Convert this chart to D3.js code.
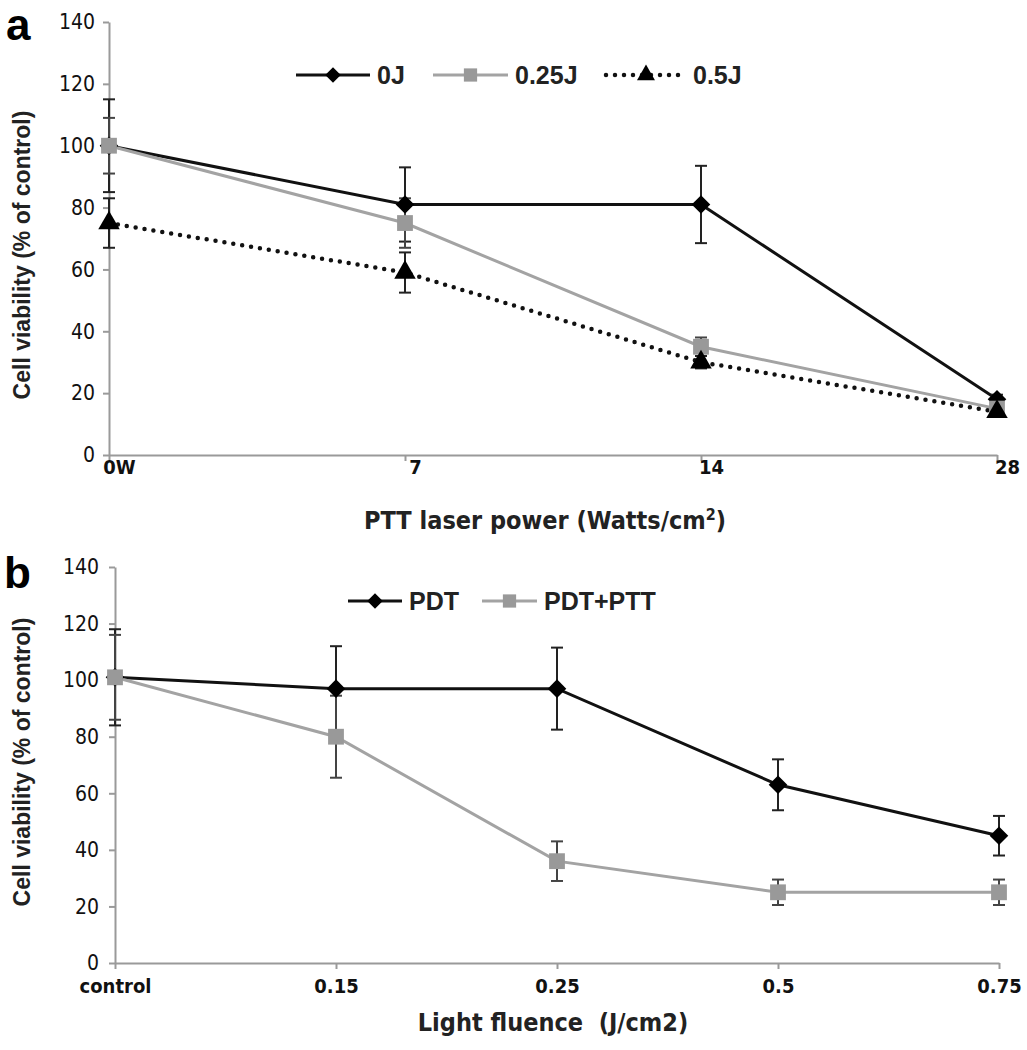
<!DOCTYPE html>
<html>
<head>
<meta charset="utf-8">
<script src="https://cdn.jsdelivr.net/npm/d3@7"></script>
<style>
  body { margin: 0; background: #fff; }
  svg { display: block; }
  .tick text { fill: #111; }
</style>
</head>
<body>
<div id="chart_container"></div>
<script>
// panel a : cell viability vs PTT laser power
const aCategories = ["0W", "7", "14", "28"];
const a0J = [100, 81, 81, 18];
const a0JErr = [15, 12, 12.5, 1.5];
const a025J = [100, 75, 35, 15];
const a025JErr = [9, 8, 3, 1.5];
const a05J = [75, 59, 30, 14];
const a05JErr = [8, 6.5, 2, 1.5];

// panel b : cell viability vs light fluence
const bCategories = ["control", "0.15", "0.25", "0.5", "0.75"];
const bPDT = [101, 97, 97, 63, 45];
const bPDTErr = [17, 15, 14.5, 9, 7];
const bPDTPTT = [101, 80, 36, 25, 25];
const bPDTPTTErr = [15, 14.5, 7, 4.5, 4.5];

const yTicks = [0, 20, 40, 60, 80, 100, 120, 140];

const narrowFont = "'DejaVu Sans Condensed', 'Liberation Sans Narrow', sans-serif";
const boldFont = "'Liberation Sans', Arial, sans-serif";

let svg = d3.select("#chart_container").append("svg")
    .attr("width", 1027)
    .attr("height", 1050);

function drawMarker(g, shape, x, y, color, size){
    let type = d3.symbolTriangle;
    if(shape == "diamond") type = d3.symbolDiamond2;
    if(shape == "square") type = d3.symbolSquare;
    g.append("path")
        .attr("d", d3.symbol().type(type).size(size)())
        .attr("transform", "translate(" + x + "," + y + ")")
        .attr("fill", color);
}

function drawPanel(p){
    let g = svg.append("g");

    let x = d3.scalePoint().domain(p.categories).range([p.left, p.right]);
    let y = d3.scaleLinear().domain([0, 140]).range([p.bottom, p.top]);

    // axes
    let xAxis = g.append("g")
        .attr("transform", "translate(0," + p.bottom + ")")
        .call(d3.axisBottom(x).tickSize(6).tickSizeOuter(0));
    xAxis.selectAll("text")
        .attr("y", p.xLabelY)
        .attr("dy", "0.71em")
        .attr("dx", p.xLabelShift)
        .style("font-family", narrowFont)
        .style("font-weight", "bold")
        .style("font-size", "20px");

    let yAxis = g.append("g")
        .attr("transform", "translate(" + p.left + ",0)")
        .call(d3.axisLeft(y).tickValues(yTicks).tickSize(6).tickSizeOuter(0));
    yAxis.selectAll("text")
        .attr("x", -p.yLabelGap)
        .style("font-family", narrowFont)
        .style("font-size", "21px");

    g.selectAll(".domain, .tick line")
        .attr("stroke", "#9a9a9a")
        .attr("stroke-width", 2);

    // series : lines first, error bars, then markers
    for(let s of p.series){
        let pts = s.values.map(function(v, i){ return [x(p.categories[i]), y(v)]; });
        let path = g.append("path")
            .datum(pts)
            .attr("d", d3.line())
            .attr("fill", "none")
            .attr("stroke", s.color)
            .attr("stroke-width", s.dotted ? 4.5 : 3);
        if(s.dotted){
            path.attr("stroke-dasharray", "0 9").attr("stroke-linecap", "round");
        }
    }
    for(let s of p.series){
        s.values.forEach(function(v, i){
            let cx = x(p.categories[i]);
            let e = s.err[i];
            let eg = g.append("g")
                .attr("stroke", s.errColor)
                .attr("stroke-width", 2);
            eg.append("line").attr("x1", cx).attr("x2", cx).attr("y1", y(v + e)).attr("y2", y(v - e));
            eg.append("line").attr("x1", cx - 6).attr("x2", cx + 6).attr("y1", y(v + e)).attr("y2", y(v + e));
            eg.append("line").attr("x1", cx - 6).attr("x2", cx + 6).attr("y1", y(v - e)).attr("y2", y(v - e));
        });
    }
    for(let s of p.series){
        s.values.forEach(function(v, i){
            drawMarker(g, s.shape, x(p.categories[i]), y(v), s.markerColor, s.size);
        });
    }

    // legend
    for(let item of p.legend){
        let s = p.series[item.idx];
        let line = g.append("line")
            .attr("x1", item.x).attr("x2", item.x + item.len)
            .attr("y1", p.legendY).attr("y2", p.legendY)
            .attr("stroke", s.color)
            .attr("stroke-width", s.dotted ? 4.5 : 3);
        if(s.dotted){
            line.attr("stroke-dasharray", "0 9").attr("stroke-linecap", "round");
        }
        drawMarker(g, s.shape, item.x + item.len / 2, p.legendY, s.markerColor, s.size * 0.7);
        g.append("text")
            .attr("x", item.x + item.len + 7)
            .attr("y", p.legendY)
            .attr("dy", "0.36em")
            .style("font-family", boldFont)
            .style("font-weight", "bold")
            .style("font-size", "25px")
            .attr("fill", "#222")
            .text(s.name);
    }

    // titles
    g.append("text")
        .attr("transform", "translate(" + p.yTitleX + "," + p.yTitleY + ") rotate(-90)")
        .attr("text-anchor", "middle")
        .style("font-family", boldFont)
        .style("font-weight", "bold")
        .style("font-size", "23px")
        .attr("fill", "#222")
        .text("Cell viability (% of control)");

    g.append("text")
        .attr("x", p.xTitleX)
        .attr("y", p.xTitleY)
        .attr("text-anchor", "middle")
        .style("font-family", narrowFont)
        .style("font-weight", "bold")
        .style("font-size", "25px")
        .attr("fill", "#222")
        .html(p.xTitle);

    g.append("text")
        .attr("x", p.letterX)
        .attr("y", p.letterY)
        .style("font-family", boldFont)
        .style("font-weight", "bold")
        .style("font-size", "44px")
        .attr("fill", "#000")
        .text(p.letter);
}

drawPanel({
    letter: "a", letterX: 6, letterY: 40,
    categories: aCategories,
    left: 109, right: 997, top: 22, bottom: 455,
    xLabelY: 5, xLabelShift: "0.5em", yLabelGap: 14,
    legendY: 75,
    legend: [{idx: 0, x: 296, len: 74}, {idx: 1, x: 433, len: 75}, {idx: 2, x: 606, len: 80}],
    yTitleX: 30, yTitleY: 255,
    xTitleX: 545, xTitleY: 529,
    xTitle: "PTT laser power (Watts/cm<tspan dy='-9' font-size='16px'>2</tspan><tspan dy='9'>)</tspan>",
    series: [
        {name: "0J", values: a0J, err: a0JErr, color: "#111", markerColor: "#000", errColor: "#222", shape: "diamond", size: 220},
        {name: "0.25J", values: a025J, err: a025JErr, color: "#a3a3a3", markerColor: "#999", errColor: "#444", shape: "square", size: 250},
        {name: "0.5J", values: a05J, err: a05JErr, color: "#111", markerColor: "#000", errColor: "#222", shape: "triangle", size: 200, dotted: true}
    ]
});

drawPanel({
    letter: "b", letterX: 4, letterY: 588,
    categories: bCategories,
    left: 115, right: 999, top: 567, bottom: 963,
    xLabelY: 16, xLabelShift: "0em", yLabelGap: 16,
    legendY: 601,
    legend: [{idx: 0, x: 348, len: 54}, {idx: 1, x: 482, len: 55}],
    yTitleX: 30, yTitleY: 762,
    xTitleX: 553, xTitleY: 1031,
    xTitle: "Light fluence&#160;&#160;(J/cm2)",
    series: [
        {name: "PDT", values: bPDT, err: bPDTErr, color: "#111", markerColor: "#000", errColor: "#222", shape: "diamond", size: 220},
        {name: "PDT+PTT", values: bPDTPTT, err: bPDTPTTErr, color: "#a3a3a3", markerColor: "#999", errColor: "#444", shape: "square", size: 250}
    ]
});
</script>
</body>
</html>
